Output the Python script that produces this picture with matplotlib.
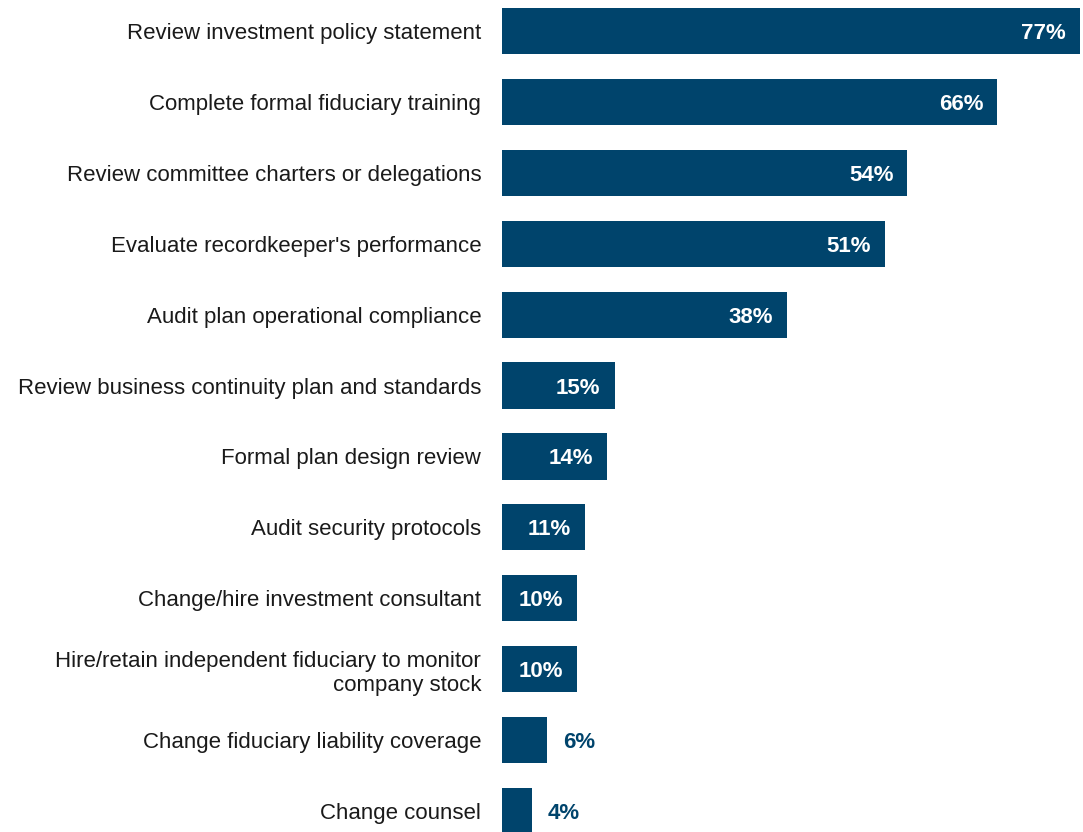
import matplotlib.pyplot as plt
import numpy as np

plt.rcParams['font.family'] = ['Liberation Sans', 'DejaVu Sans']

categories = [
    "Review investment policy statement",
    "Complete formal fiduciary training",
    "Review committee charters or delegations",
    "Evaluate recordkeeper's performance",
    "Audit plan operational compliance",
    "Review business continuity plan and standards",
    "Formal plan design review",
    "Audit security protocols",
    "Change/hire investment consultant",
    "Hire/retain independent fiduciary to monitor\ncompany stock",
    "Change fiduciary liability coverage",
    "Change counsel",
]
values = [77, 66, 54, 51, 38, 15, 14, 11, 10, 10, 6, 4]

navy = '#00446c'

fig = plt.figure(figsize=(10.83, 8.32), dpi=100)
ax = fig.add_axes([502 / 1083, 0, 581 / 1083, 1])

y = np.arange(len(values))
ax.barh(y, values, height=0.65, color=navy)

ax.set_xlim(0, 77 * 581 / 578)
ax.set_ylim(len(values) - 1 + 0.296, -0.437)

ax.set_yticks(y)
ax.set_yticklabels(categories, fontsize=16, color='#1a1a1a', linespacing=1.2)
ax.tick_params(axis='y', length=0, pad=15)
ax.set_xticks([])
for s in ax.spines.values():
    s.set_visible(False)

# value labels: inside the bar when it is wide enough, outside otherwise
for yi, v in zip(y, values):
    if v >= 10:
        ax.annotate(f"{v}%", (v, yi), xytext=(-14, 0), textcoords='offset pixels',
                    ha='right', va='center_baseline', color='white', fontsize=16, fontweight='bold')
    else:
        ax.annotate(f"{v}%", (v, yi), xytext=(16, 0), textcoords='offset pixels',
                    ha='left', va='center_baseline', color=navy, fontsize=16, fontweight='bold')

fig.savefig('out.png', dpi=100)
